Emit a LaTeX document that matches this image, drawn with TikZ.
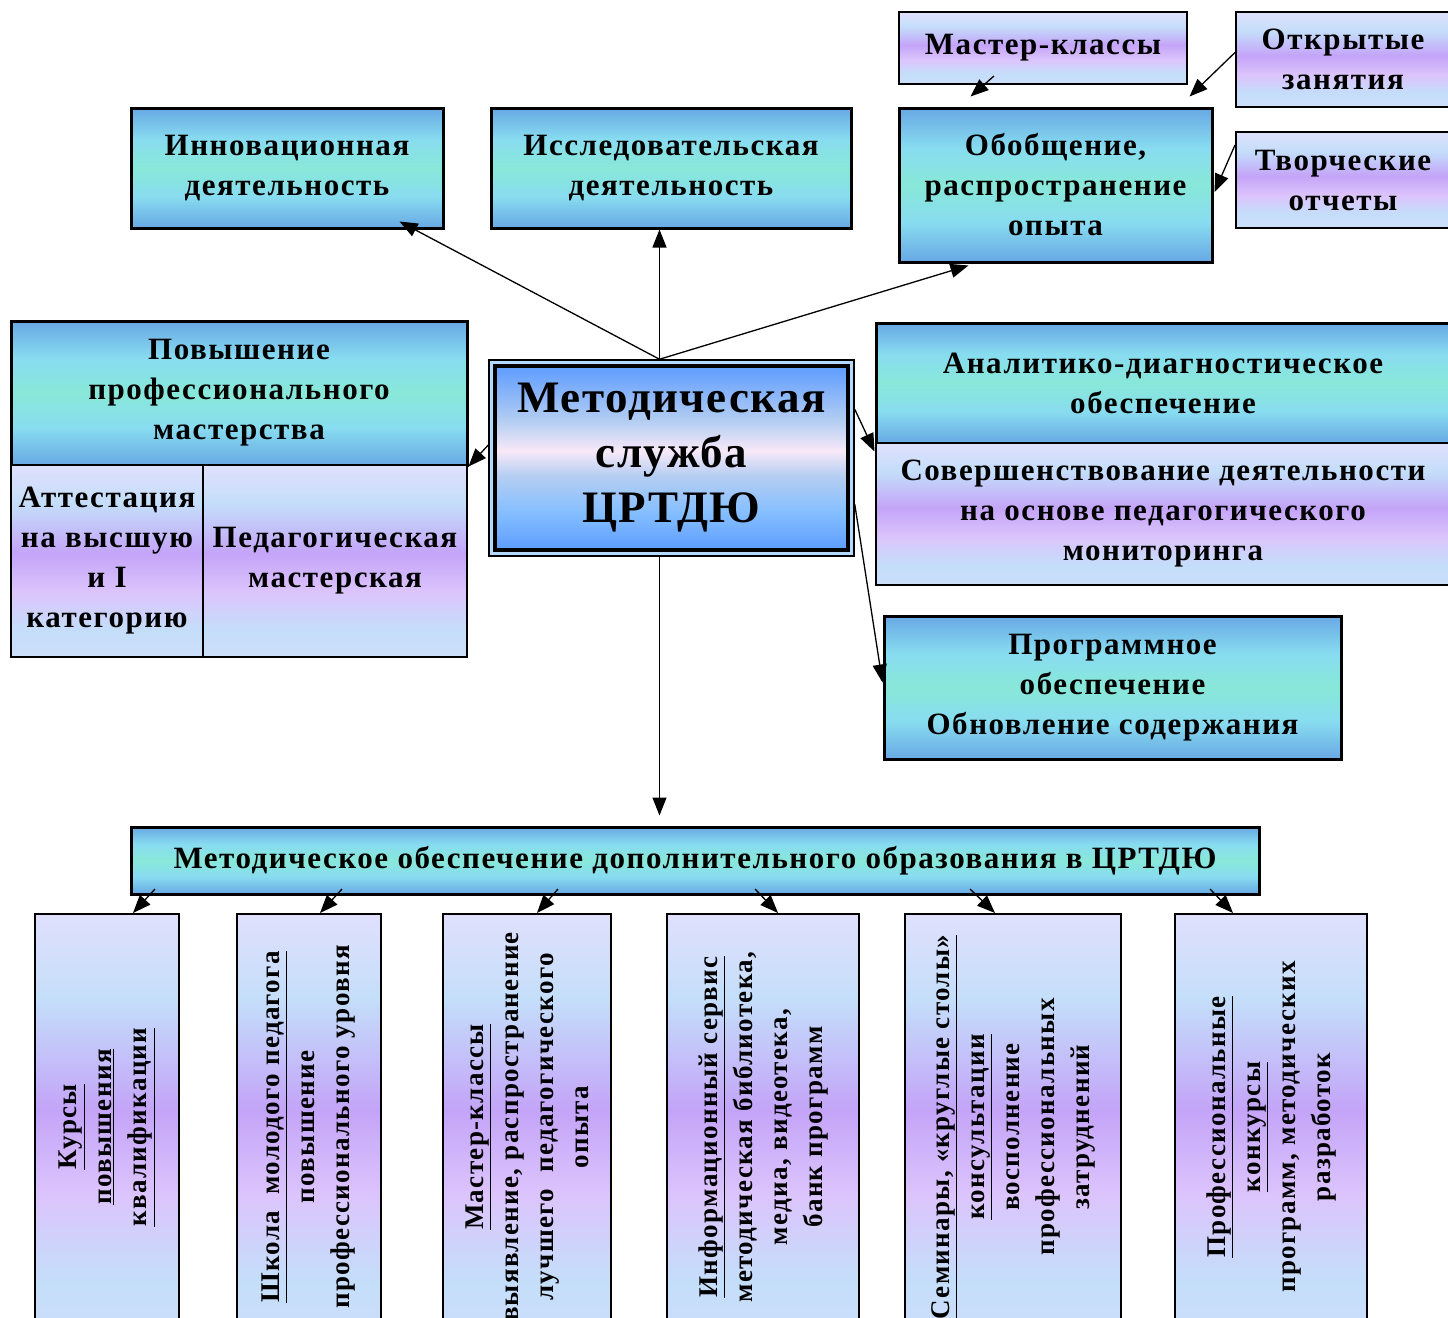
\documentclass[tikz,border=0pt]{standalone}
\usepackage{fontspec}
\setmainfont{Liberation Serif}[LetterSpace=5]
\newfontfamily\corefont{Liberation Serif}[LetterSpace=3.5]
\usetikzlibrary{arrows.meta, calc}

\definecolor{tbBlue}{HTML}{68A8E4}
\definecolor{tbCyan}{HTML}{88DCF0}
\definecolor{tbMint}{HTML}{88E8D8}
\definecolor{lvTop}{HTML}{E0E0FC}
\definecolor{lvSky}{HTML}{C4DEFA}
\definecolor{lvPurple}{HTML}{C4A4F8}
\definecolor{lvPale}{HTML}{DCC4FC}
\definecolor{crBlue}{HTML}{5E9CFF}
\definecolor{crSoft}{HTML}{B4CEF2}
\definecolor{crPink}{HTML}{F8E8F8}
\definecolor{crLight}{HTML}{84BEFF}

\pgfdeclareverticalshading{tealshade}{100bp}{color(0bp)=(tbBlue); color(25bp)=(tbBlue);
  color(38bp)=(tbCyan); color(50bp)=(tbMint); color(62bp)=(tbCyan); color(75bp)=(tbBlue); color(100bp)=(tbBlue)}
\pgfdeclareverticalshading{lilacshade}{100bp}{color(0bp)=(lvSky); color(25bp)=(lvSky!70!lvTop);
  color(32bp)=(lvSky); color(42bp)=(lvPale); color(52bp)=(lvPurple); color(65bp)=(lvSky); color(75bp)=(lvTop); color(100bp)=(lvTop)}
\pgfdeclareverticalshading{coreshade}{100bp}{color(0bp)=(crBlue); color(25bp)=(crBlue);
  color(35bp)=(crLight); color(45bp)=(crSoft); color(52bp)=(crPink); color(60bp)=(crSoft); color(75bp)=(crBlue); color(100bp)=(crBlue)}

\begin{document}
\begin{tikzpicture}[x=1pt, y=-1pt,
    tealbox/.style={draw, line width=3pt, shading=tealshade, align=center, inner sep=0pt,
      font=\bfseries\fontsize{31}{40}\selectfont},
    lilacbox/.style={draw, line width=2pt, shading=lilacshade, align=center, inner sep=0pt,
      font=\bfseries\fontsize{31}{40}\selectfont},
    vtext/.style={rotate=90, align=center, font=\bfseries\fontsize{27}{35}\selectfont},
    arr/.style={-{Triangle[length=18pt,width=14pt]}, line width=1.3pt}]
  \useasboundingbox (0,0) rectangle (1448,1317);
  \fill [white] (0,0) rectangle (1448,1317);
  \clip (0,0) rectangle (1448,1317);

  % upper row
  \node (innov) [tealbox, minimum width=312pt, minimum height=120pt] at (287,168) {Инновационная\\деятельность};
  \node (research) [tealbox, minimum width=360pt, minimum height=120pt] at (671,168) {Исследовательская\\деятельность};
  \node (obob) [tealbox, minimum width=313pt, minimum height=154pt] at (1055.5,185) {Обобщение,\\распространение\\опыта};
  \node (mtop) [lilacbox, minimum width=288pt, minimum height=72pt] at (1043,48) {Мастер-классы};
  \node (open) [lilacbox, minimum width=214pt, minimum height=95pt] at (1343,59.5) {Открытые\\занятия};
  \node (tvor) [lilacbox, minimum width=214pt, minimum height=96pt] at (1343,180) {Творческие\\отчеты};

  % left block
  \node (povysh) [tealbox, minimum width=456pt, minimum height=144pt] at (239,393) {Повышение\\профессионального\\мастерства};
  \node (attest) [lilacbox, minimum width=192pt, minimum height=192pt] at (107,561) {Аттестация\\на высшую\\и I\\категорию};
  \node (pedmaster) [lilacbox, minimum width=264pt, minimum height=192pt] at (335,561) {Педагогическая\\мастерская};

  % centre
  \node (central) [draw, line width=1.5pt, fill=crLight!60!white, minimum width=365pt, minimum height=196pt] at (671.5,458) {};
  \node (core) [draw, line width=3.5pt, shading=coreshade, align=center, inner sep=0pt,
    minimum width=353pt, minimum height=184pt, font=\corefont\bfseries\fontsize{45}{55}\selectfont] at (central) {Методическая\\служба\\ЦРТДЮ};

  % right block
  \node (analyt) [tealbox, minimum width=574pt, minimum height=120pt] at (1163,383) {Аналитико-диагностическое\\обеспечение};
  \node (sovers) [lilacbox, minimum width=574pt, minimum height=142pt] at (1163,514) {Совершенствование деятельности\\на основе педагогического\\мониторинга};
  \node (progr) [tealbox, minimum width=457pt, minimum height=143pt] at (1112.5,687.5) {Программное\\обеспечение\\Обновление содержания};

  % lower band
  \node (band) [tealbox, minimum width=1128pt, minimum height=67pt] at (695,860.5) {Методическое обеспечение дополнительного образования в ЦРТДЮ};

  \foreach \n/\x/\w in {b1/107/144, b2/309/144, b3/527/168, b4/763/192, b5/1013/216, b6/1271/192}
    \node (\n) [lilacbox, minimum width=\w pt, minimum height=426pt] at (\x,1127) {};

  \node (t1) [vtext] at (b1) {\underline{Курсы}\\\underline{повышения}\\\underline{квалификации}};
  \node (t2) [vtext] at (b2) {\underline{Школа\ \ молодого педагога}\\повышение\\профессионального уровня};
  \node (t3) [vtext] at (b3) {\underline{Мастер-классы}\\выявление, распространение\\лучшего\ \ педагогического\\опыта};
  \node (t4) [vtext] at (b4) {\underline{Информационный сервис}\\методическая библиотека,\\медиа, видеотека,\\банк программ};
  \node (t5) [vtext] at (b5) {\underline{Семинары, «круглые столы»}\\\underline{консультации}\\восполнение\\профессиональных\\затруднений};
  \node (t6) [vtext] at (b6) {\underline{Профессиональные}\\\underline{конкурсы}\\программ, методических\\разработок};

  \coordinate (ctop) at ($(central.north)+(-12,0)$);

  \path [arr]
    (ctop) edge ($(innov.south east)+(-45,-8)$)
    (ctop) edge (ctop |- research.south)
    (ctop) edge ($(obob.south west)+(71,2)$)
    ($(mtop.south west)+(96,-9)$) edge ($(obob.north west)+(73,-10)$)
    ($(open.west)+(0,-7)$) edge ($(obob.north east)+(-24,-10)$)
    ($(tvor.west)+(0,-35)$) edge ($(obob.east)+(1,7)$)
    ($(central.west)+(0,-13)$) edge (povysh.south east)
    ($(central.north east)+(0,50)$) edge ($(analyt.south west)+(0,7)$)
    ($(central.north east)+(0,145)$) edge ($(progr.west)+(0,-5)$)
    (ctop |- central.south) edge ($(ctop |- band.north)+(0,-10)$);

  \foreach \b/\s/\t in {b1/48/26, b2/33/11, b3/31/10, b4/-8/15, b5/-43/-18, b6/-61/-38}
    \draw [arr] ($(\b.north)+(\s,-24)$) -- ($(\b.north)+(\t,0)$);
\end{tikzpicture}
\end{document}
